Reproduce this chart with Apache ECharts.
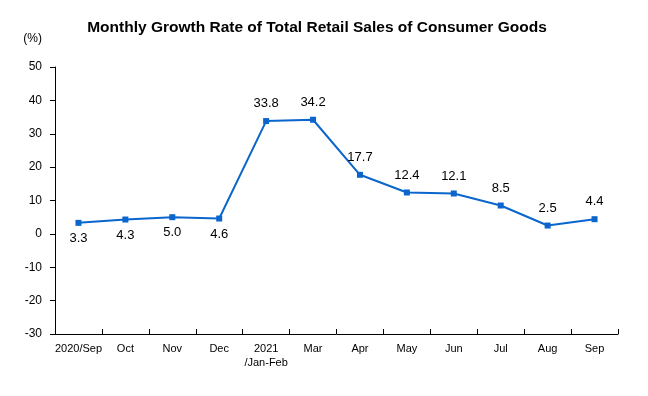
<!DOCTYPE html>
<html>
<head>
<meta charset="utf-8">
<script src="https://cdn.jsdelivr.net/npm/echarts@6/dist/echarts.min.js"></script>
<style>
    html, body { margin: 0; padding: 0; background: #fff; }
    #chart { width: 648px; height: 396px; }
</style>
</head>
<body>
<div id="chart"></div>
<script>
    var months = ['2020/Sep', 'Oct', 'Nov', 'Dec', '2021\n/Jan-Feb', 'Mar', 'Apr', 'May', 'Jun', 'Jul', 'Aug', 'Sep'];
    var growth = [3.3, 4.3, 5.0, 4.6, 33.8, 34.2, 17.7, 12.4, 12.1, 8.5, 2.5, 4.4];
    // first four labels sit under the points
    var labelBelow = [true, true, true, true, false, false, false, false, false, false, false, false];

    var chart = echarts.init(document.getElementById('chart'));
    chart.setOption({
        animation: false,
        title: {
            text: 'Monthly Growth Rate of Total Retail Sales of Consumer Goods',
            left: 317,
            textAlign: 'center',
            top: 15,
            textStyle: { fontFamily: 'Liberation Sans', fontSize: 15.5, fontWeight: 'bold', color: '#000' }
        },
        grid: { left: 55, right: 30, top: 67, bottom: 62 },
        xAxis: {
            type: 'category',
            data: months,
            boundaryGap: true,
            axisLine: { onZero: false, lineStyle: { color: '#000', width: 1 } },
            axisTick: { show: true, inside: true, length: 5, lineStyle: { color: '#000' } },
            axisLabel: { interval: 0, color: '#000', fontFamily: 'Liberation Sans Narrow, Liberation Sans', fontSize: 11, margin: 8, lineHeight: 14 }
        },
        yAxis: {
            type: 'value',
            min: -30,
            max: 50,
            interval: 10,
            name: '(%)',
            nameLocation: 'end',
            nameGap: 22,
            nameTextStyle: { color: '#000', fontFamily: 'Liberation Sans', fontSize: 12, align: 'right', padding: [0, 13, 0, 0] },
            splitLine: { show: false },
            axisLine: { show: true, lineStyle: { color: '#000', width: 1 } },
            axisTick: { show: true, length: 5, lineStyle: { color: '#000' } },
            axisLabel: { color: '#000', fontFamily: 'Liberation Sans', fontSize: 12, margin: 13 }
        },
        series: [{
            type: 'line',
            data: growth.map(function (v, i) {
                return {
                    value: v,
                    label: { position: labelBelow[i] ? 'bottom' : 'top', distance: labelBelow[i] ? 6 : 8 }
                };
            }),
            symbol: 'rect',
            symbolSize: 6,
            lineStyle: { color: '#0a66cc', width: 2 },
            itemStyle: { color: '#0a66cc' },
            label: {
                show: true,
                color: '#000',
                fontFamily: 'Liberation Sans',
                fontSize: 13,
                formatter: function (p) { return p.value.toFixed(1); }
            }
        }]
    });
    chart.setOption({ title: { left: 312 } });
</script>
</body>
</html>
